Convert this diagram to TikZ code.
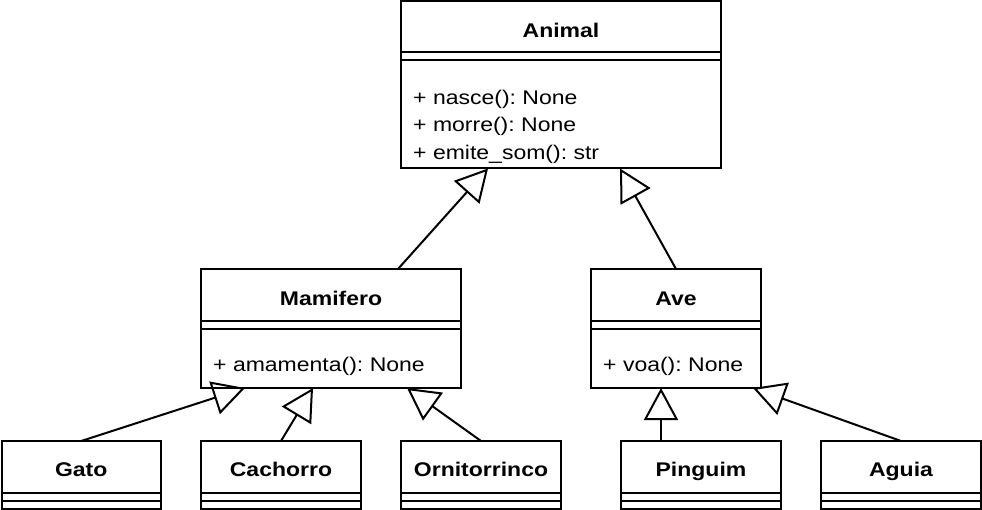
\documentclass[tikz,border=0pt]{standalone}
\usepackage{fontspec}
\setmainfont{Liberation Sans}
\usepackage{graphicx}
\usetikzlibrary{arrows.meta,calc}
\newcommand\vsq[1]{\scalebox{1}[0.86]{#1}}
\newcommand\classdivs[3]{%
  \draw[divider] ($(#1.north west)+(0,#2)$) -- ($(#1.north east)+(0,#2)$);
  \draw[divider] ($(#1.north west)+(0,#3)$) -- ($(#1.north east)+(0,#3)$);}
\frenchspacing
\begin{document}
\begin{tikzpicture}[x=1pt,y=-1pt,
  classbox/.style={draw, line width=2pt, rectangle, inner sep=0pt, outer sep=0pt, anchor=north west, fill=white},
  title/.style={font=\fontsize{23}{27.5}\bfseries\selectfont, anchor=base, inner sep=0pt},
  member/.style={font=\fontsize{23}{27.5}\selectfont, anchor=base west, inner sep=0pt},
  divider/.style={line width=2pt},
  inherit/.style={line width=2pt, -{Triangle[open, length=32pt, width=34pt]}}
]
\useasboundingbox (0,0) rectangle (982,510);

% class boxes
\node[classbox, minimum width=320pt, minimum height=167pt] (animal) at (401,1.5) {};
\node[classbox, minimum width=260pt, minimum height=119pt] (mamifero) at (201,269) {};
\node[classbox, minimum width=170pt, minimum height=119pt] (ave) at (591,269) {};
\node[classbox, minimum width=159.5pt, minimum height=67.5pt] (gato) at (1.5,441) {};
\node[classbox, minimum width=160pt, minimum height=67.5pt] (cachorro) at (201,441) {};
\node[classbox, minimum width=160pt, minimum height=67.5pt] (ornito) at (401,441) {};
\node[classbox, minimum width=160pt, minimum height=67.5pt] (pinguim) at (621,441) {};
\node[classbox, minimum width=160pt, minimum height=67.5pt] (aguia) at (821,441) {};

% dividers
\classdivs{animal}{50.5}{58.5}
\classdivs{mamifero}{52}{60}
\classdivs{ave}{52}{60}
\classdivs{gato}{51.5}{59.7}
\classdivs{cachorro}{51.5}{59.7}
\classdivs{ornito}{51.5}{59.7}
\classdivs{pinguim}{51.5}{59.7}
\classdivs{aguia}{51.5}{59.7}

% titles
\node[title] (animalT) at ($(animal.north)+(0,36.2)$) {\vsq{Animal}};
\node[title] (mamiferoT) at ($(mamifero.north)+(0,37)$) {\vsq{Mamifero}};
\node[title] (aveT) at ($(ave.north)+(0,37)$) {\vsq{Ave}};
\node[title] (gatoT) at ($(gato.north)+(0,35)$) {\vsq{Gato}};
\node[title] (cachorroT) at ($(cachorro.north)+(0,35)$) {\vsq{Cachorro}};
\node[title] (ornitoT) at ($(ornito.north)+(0,35)$) {\vsq{Ornitorrinco}};
\node[title] (pinguimT) at ($(pinguim.north)+(0,35)$) {\vsq{Pinguim}};
\node[title] (aguiaT) at ($(aguia.north)+(0,35)$) {\vsq{Aguia}};

% members
\node[member] (am1) at ($(animal.north west)+(12,102.8)$) {\vsq{+ nasce(): None}};
\node[member] (am2) at ($(animal.north west)+(12,130.3)$) {\vsq{+ morre(): None}};
\node[member] (am3) at ($(animal.north west)+(12,157.8)$) {\vsq{+ emite\_som(): str}};
\node[member] (mm1) at ($(mamifero.north west)+(12,102)$) {\vsq{+ amamenta(): None}};
\node[member] (vm1) at ($(ave.north west)+(12,102)$) {\vsq{+ voa(): None}};

% inheritance
\draw[inherit] ($(mamifero.north west)+(197,0)$) -- ($(animal.south west)+(87,0)$);
\draw[inherit] (ave.north) -- ($(animal.south west)+(219,0)$);
\draw[inherit] (gato.north) -- ($(mamifero.south west)+(44,0)$);
\draw[inherit] (cachorro.north) -- ($(mamifero.south west)+(112,0)$);
\draw[inherit] (ornito.north) -- ($(mamifero.south west)+(206,0)$);
\draw[inherit] ($(pinguim.north west)+(40,0)$) -- ($(ave.south west)+(70,0)$);
\draw[inherit] (aguia.north) -- ($(ave.south west)+(162,0)$);
\end{tikzpicture}
\end{document}
